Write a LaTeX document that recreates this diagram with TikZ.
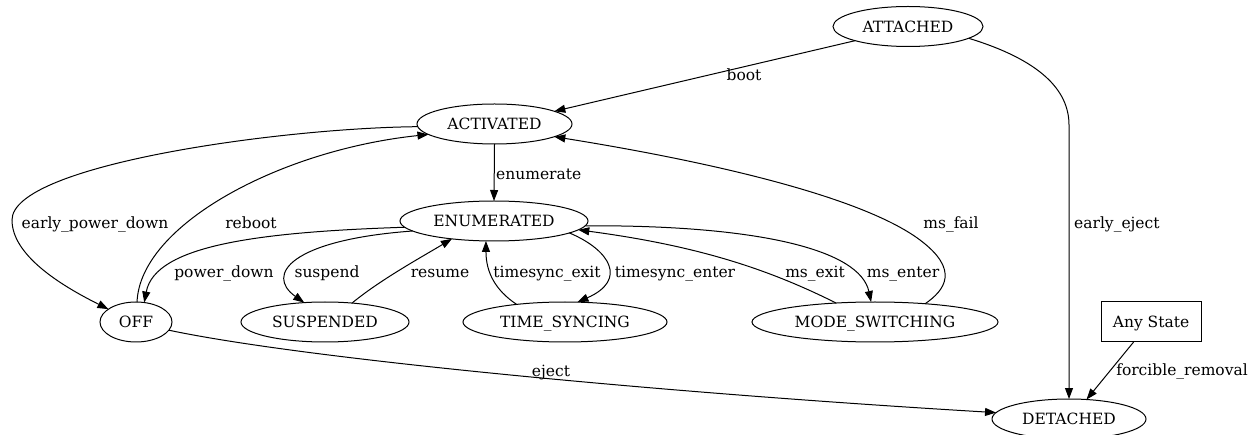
\documentclass[tikz,border=0pt]{standalone}
\usepackage{fontspec}
\setmainfont{DejaVu Serif}
\usetikzlibrary{shapes.geometric,arrows.meta}
\begin{document}
\begin{tikzpicture}[x=1pt,y=-1pt,
  st/.style={draw,ellipse,line width=1pt,inner sep=0pt,outer sep=0pt,minimum height=40pt,
    font=\fontsize{15.5pt}{18pt}\selectfont,text height=11.3pt,text depth=0pt},
  boxst/.style={draw,rectangle,line width=1pt,inner sep=0pt,outer sep=0pt,minimum height=40pt,minimum width=100pt,
    font=\fontsize{15.5pt}{18pt}\selectfont,text height=11.3pt,text depth=0pt},
  lab/.style={inner sep=0pt,font=\fontsize{15.5pt}{18pt}\selectfont,text height=11.3pt,text depth=0pt},
  e/.style={line width=1pt,-{Triangle[length=11pt,width=8pt]}}]
\useasboundingbox (0,0) rectangle (1255,435);
% states
\node[st,minimum width=150pt] (ATT) at (908,26.5) {ATTACHED};
\node[st,minimum width=155pt] (ACT) at (494.5,124) {ACTIVATED};
\node[st,minimum width=188pt] (ENU) at (494,221) {ENUMERATED};
\node[st,minimum width=72pt] (OFF) at (136,322) {OFF};
\node[st,minimum width=168pt] (SUS) at (325,322) {SUSPENDED};
\node[st,minimum width=204pt] (TS) at (565,322) {TIME\_SYNCING};
\node[st,minimum width=246pt] (MS) at (875,322) {MODE\_SWITCHING};
\node[boxst] (ANY) at (1151,322) {Any State};
\node[st,minimum width=154pt] (DET) at (1069,419) {DETACHED};
% edges
\draw[e] (ATT.195.7) -- (ACT.12.7);
\draw[e] (ATT.349.5) .. controls (1040,60) and (1069,90) .. (1069,125) -- (DET.north);
\draw[e] (ACT.182.2) .. controls (280,128) and (12,165) .. (12,220) .. controls (12,255) and (60,285) .. (OFF.155);
\draw[e] (OFF.87) .. controls (140,225) and (280,150) .. (ACT.189.7);
\draw[e] (ACT.south) -- (ENU.north);
\draw[e] (ENU.184.5) .. controls (260,232) and (155,245) .. (OFF.67.7);
\draw[e] (ENU.187.9) .. controls (290,240) and (265,275) .. (SUS.137.7);
\draw[e] (SUS.35.1) .. controls (380,280) and (420,258) .. (ENU.203.7);
\draw[e] (TS.160.8) .. controls (495,290) and (486,272) .. (ENU.248.2);
\draw[e] (ENU.351) .. controls (610,250) and (628,280) .. (TS.58.5);
\draw[e] (ENU.357.5) .. controls (760,225) and (860,250) .. (MS.101.3);
\draw[e] (MS.154.6) .. controls (770,270) and (700,246) .. (ENU.354);
\draw[e] (MS.20.5) .. controls (945,290) and (960,270) .. (920,240) .. controls (860,195) and (700,160) .. (ACT.348.8);
\draw[e] (OFF.346.8) .. controls (300,358) and (650,392) .. (DET.175.8);
\draw[e] (ANY.229.6) -- (DET.48.9);
% labels
\node[lab] (lboot) at (744,75) {boot};
\node[lab,anchor=west] (leject2) at (1074,223) {early\_eject};
\node[lab] (lepd) at (95,223) {early\_power\_down};
\node[lab] (lreboot) at (251,223) {reboot};
\node[lab,anchor=west] (lenum) at (496,174) {enumerate};
\node[lab] (lpd) at (224,272) {power\_down};
\node[lab] (lsus) at (327,272) {suspend};
\node[lab] (lres) at (440,272) {resume};
\node[lab] (ltse) at (547,272) {timesync\_exit};
\node[lab] (ltsn) at (675,272) {timesync\_enter};
\node[lab] (lmsx) at (815,272) {ms\_exit};
\node[lab] (lmsn) at (903,272) {ms\_enter};
\node[lab] (lmsf) at (951,223) {ms\_fail};
\node[lab] (lej) at (551,371) {eject};
\node[lab] (lfr) at (1182,370) {forcible\_removal};
\end{tikzpicture}
\end{document}
